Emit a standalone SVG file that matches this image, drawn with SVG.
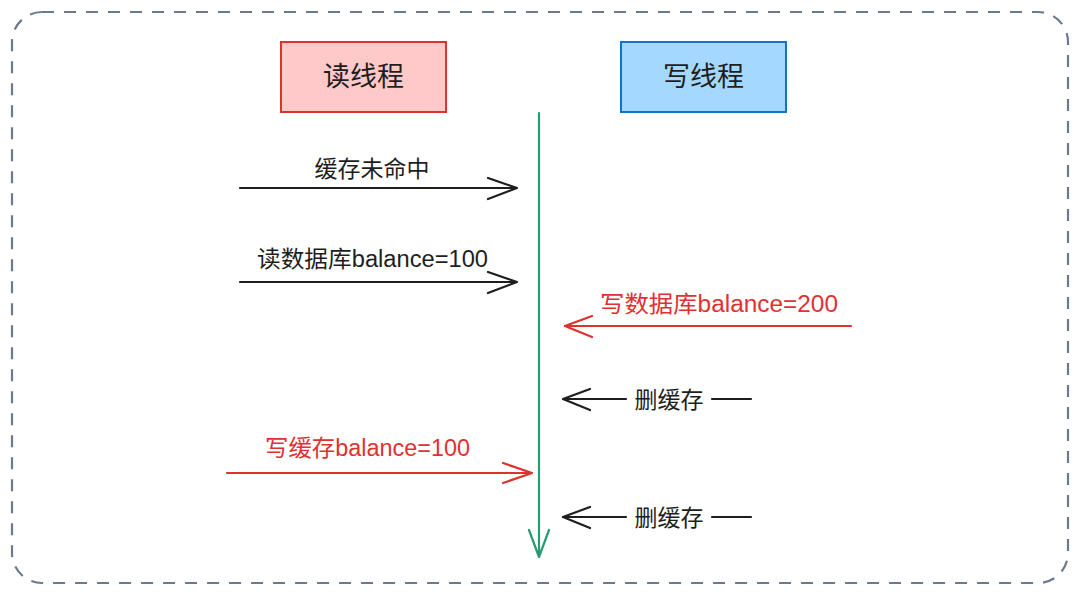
<svg xmlns="http://www.w3.org/2000/svg" width="1080" height="595" viewBox="0 0 1080 595">
<style>
  .t{font-family:"Liberation Sans","Noto Sans CJK SC",sans-serif;}
  .lbl{font-size:23px;fill:#1e1e1e;}
  .red{fill:#e03131;}
  .blk{stroke:#1e1e1e;stroke-width:2.2;fill:none;stroke-linecap:round;stroke-linejoin:round;}
  .rln{stroke:#e03131;stroke-width:2.2;fill:none;stroke-linecap:round;stroke-linejoin:round;}
  .grn{stroke:#2b9a74;stroke-width:2.2;fill:none;stroke-linecap:round;stroke-linejoin:round;}
</style>
<rect width="1080" height="595" fill="#ffffff"/>
<rect id="frame" x="12" y="12" width="1056" height="571" rx="30" ry="30" fill="none" stroke="#6b7a8f" stroke-width="2.2" stroke-dasharray="12 10"/>
<g id="node-read">
  <rect x="281" y="42" width="165" height="70" fill="#ffc9c9" stroke="#e03131" stroke-width="2"/>
  <text class="t" x="363.5" y="86" font-size="27" text-anchor="middle" fill="#1e1e1e">读线程</text>
</g>
<g id="node-write">
  <rect x="621" y="42" width="165" height="70" fill="#a5d8ff" stroke="#1971c2" stroke-width="2"/>
  <text class="t" x="703.5" y="86" font-size="27" text-anchor="middle" fill="#1e1e1e">写线程</text>
</g>
<g id="connectors">
  <path class="grn" d="M539 113 L539 557 M529 530 L539 557 L549 530"/>
  <path class="blk" d="M240 188 L517 188 M488 178 L517 188 L488 199"/>
  <text class="t lbl" x="372" y="177" text-anchor="middle">缓存未命中</text>
  <path class="blk" d="M240 282 L517 282 M488 272 L517 282 L488 293"/>
  <text class="t lbl" x="257" y="267" textLength="231" lengthAdjust="spacingAndGlyphs">读数据库balance=100</text>
  <path class="rln" d="M851 326 L565 326 M592 316 L565 326 L592 337"/>
  <text class="t lbl red" x="600" y="312" textLength="238" lengthAdjust="spacingAndGlyphs">写数据库balance=200</text>
  <path class="blk" d="M563 399 L626 399 M590 389 L563 399 L590 410 M712 399 L751 399"/>
  <text class="t lbl" x="669" y="408" text-anchor="middle">删缓存</text>
  <path class="blk" d="M563 517 L626 517 M590 507 L563 517 L590 528 M712 517 L751 517"/>
  <text class="t lbl" x="669" y="526" text-anchor="middle">删缓存</text>
  <path class="rln" d="M227 473 L532 473 M503 463 L532 473 L503 483"/>
  <text class="t lbl red" x="265" y="456" textLength="205" lengthAdjust="spacingAndGlyphs">写缓存balance=100</text>
</g>
</svg>
